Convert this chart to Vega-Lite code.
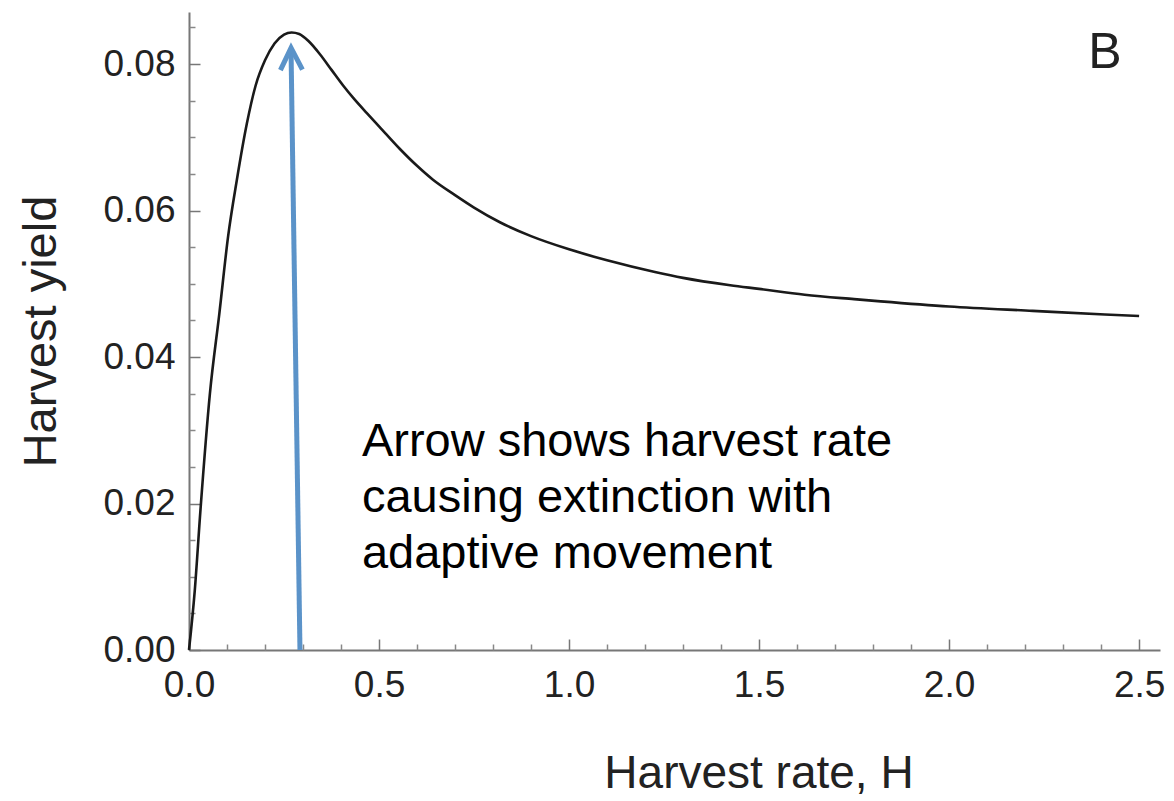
{
  "$schema": "https://vega.github.io/schema/vega-lite/v6.json",
  "width": 971,
  "height": 638,
  "autosize": {"type": "none"},
  "padding": {"left": 189, "top": 12, "right": 14, "bottom": 151},
  "background": "white",
  "config": {"view": {"stroke": null}, "font": "Liberation Sans"},
  "datasets": {
    "curve": [
      {"h": 0, "yield": 0},
      {"h": 0.015, "yield": 0.008},
      {"h": 0.03, "yield": 0.019},
      {"h": 0.055, "yield": 0.035},
      {"h": 0.08, "yield": 0.046},
      {"h": 0.103, "yield": 0.0565},
      {"h": 0.126, "yield": 0.0642},
      {"h": 0.152, "yield": 0.0718},
      {"h": 0.175, "yield": 0.077},
      {"h": 0.2, "yield": 0.0805},
      {"h": 0.225, "yield": 0.0828},
      {"h": 0.25, "yield": 0.084},
      {"h": 0.27, "yield": 0.0843},
      {"h": 0.29, "yield": 0.0841},
      {"h": 0.315, "yield": 0.0831},
      {"h": 0.345, "yield": 0.0813},
      {"h": 0.375, "yield": 0.0792},
      {"h": 0.405, "yield": 0.0771},
      {"h": 0.435, "yield": 0.0752},
      {"h": 0.468, "yield": 0.0733},
      {"h": 0.5, "yield": 0.0715},
      {"h": 0.555, "yield": 0.0684},
      {"h": 0.6, "yield": 0.0661},
      {"h": 0.642, "yield": 0.0642},
      {"h": 0.7, "yield": 0.0621},
      {"h": 0.75, "yield": 0.0604},
      {"h": 0.818, "yield": 0.0584},
      {"h": 0.9, "yield": 0.0565},
      {"h": 1.0, "yield": 0.0547},
      {"h": 1.1, "yield": 0.0532},
      {"h": 1.226, "yield": 0.0516},
      {"h": 1.3, "yield": 0.0508},
      {"h": 1.424, "yield": 0.0498},
      {"h": 1.5, "yield": 0.0493},
      {"h": 1.62, "yield": 0.0485},
      {"h": 1.75, "yield": 0.0479},
      {"h": 1.82, "yield": 0.0476},
      {"h": 2.0, "yield": 0.0469},
      {"h": 2.22, "yield": 0.0463},
      {"h": 2.41, "yield": 0.0458},
      {"h": 2.5, "yield": 0.0456}
    ],
    "arrow": [{"h0": 0.292, "y0": 0, "h1": 0.2685, "y1": 0.0818}],
    "head": [{"h": 0.2685, "y": 0.0822}],
    "note": [{"h": 0.455, "y": 0.0265, "label": "Arrow shows harvest rate\ncausing extinction with\nadaptive movement"}],
    "panel": [{"h": 2.366, "y": 0.0795, "label": "B"}]
  },
  "layer": [
    {
      "data": {"name": "curve"},
      "mark": {"type": "line", "color": "#1a1a1a", "strokeWidth": 2.6, "interpolate": "monotone"},
      "encoding": {
        "x": {
          "field": "h", "type": "quantitative",
          "scale": {"domain": [0, 2.555], "nice": false, "zero": false},
          "axis": {
            "orient": "bottom", "values": [0, 0.5, 1, 1.5, 2, 2.5], "format": ".1f",
            "tickSize": -11, "tickWidth": 1.5, "tickColor": "#777",
            "domainColor": "#777", "domainWidth": 2,
            "labelFontSize": 37, "labelColor": "#222", "labelPadding": 28, "labelFont": "Liberation Sans",
            "labelFlush": false, "labelOverlap": false, "grid": false,
            "title": "Harvest rate, H", "titleFontSize": 46, "titleFontWeight": "normal", "titleColor": "#222",
            "titleFont": "Liberation Sans", "titleX": 569.5, "titleY": 137, "titleAlign": "center", "titleBaseline": "alphabetic"
          }
        },
        "y": {
          "field": "yield", "type": "quantitative",
          "scale": {"domain": [0, 0.0871], "nice": false},
          "axis": {
            "orient": "left", "values": [0, 0.02, 0.04, 0.06, 0.08], "format": ".2f",
            "tickSize": -11, "tickWidth": 1.5, "tickColor": "#777",
            "domainColor": "#777", "domainWidth": 2,
            "labelFontSize": 37, "labelColor": "#222", "labelPadding": 25, "labelFont": "Liberation Sans",
            "labelFlush": false, "labelOverlap": false, "grid": false,
            "title": "Harvest yield", "titleFontSize": 47, "titleFontWeight": "normal", "titleColor": "#222",
            "titleFont": "Liberation Sans", "titleX": -134, "titleY": 319, "titleAngle": -90, "titleAlign": "center", "titleBaseline": "alphabetic"
          }
        }
      }
    },
    {
      "data": {"name": "arrow"},
      "mark": {"type": "rule", "color": "#5b93c9", "strokeWidth": 5},
      "encoding": {
        "x": {
          "field": "h0", "type": "quantitative",
          "axis": {
            "orient": "bottom",
            "values": [0.1, 0.2, 0.3, 0.4, 0.6, 0.7, 0.8, 0.9, 1.1, 1.2, 1.3, 1.4, 1.6, 1.7, 1.8, 1.9, 2.1, 2.2, 2.3, 2.4],
            "tickSize": -6, "tickWidth": 1.5, "tickColor": "#888", "labels": false, "domain": false, "grid": false, "title": null
          }
        },
        "y": {
          "field": "y0", "type": "quantitative",
          "axis": {
            "orient": "left",
            "values": [0.005, 0.01, 0.015, 0.025, 0.03, 0.035, 0.045, 0.05, 0.055, 0.065, 0.07, 0.075, 0.085],
            "tickSize": -6, "tickWidth": 1.5, "tickColor": "#888", "labels": false, "domain": false, "grid": false, "title": null
          }
        },
        "x2": {"field": "h1"},
        "y2": {"field": "y1"}
      }
    },
    {
      "data": {"name": "head"},
      "mark": {"type": "point", "shape": "M -1 2 L 0 0 L 1 2", "filled": false, "stroke": "#5b93c9", "strokeWidth": 5, "size": 484, "angle": -1, "opacity": 1, "strokeJoin": "miter"},
      "encoding": {
        "x": {"field": "h", "type": "quantitative", "axis": null},
        "y": {"field": "y", "type": "quantitative", "axis": null}
      }
    },
    {
      "data": {"name": "note"},
      "mark": {"type": "text", "align": "left", "baseline": "alphabetic", "fontSize": 47, "font": "Liberation Sans", "color": "#000", "lineBreak": "\n", "lineHeight": 56},
      "encoding": {
        "x": {"field": "h", "type": "quantitative", "axis": null},
        "y": {"field": "y", "type": "quantitative", "axis": null},
        "text": {"field": "label", "type": "nominal"}
      }
    },
    {
      "data": {"name": "panel"},
      "mark": {"type": "text", "align": "left", "baseline": "alphabetic", "fontSize": 50, "font": "Liberation Sans", "color": "#222"},
      "encoding": {
        "x": {"field": "h", "type": "quantitative", "axis": null},
        "y": {"field": "y", "type": "quantitative", "axis": null},
        "text": {"field": "label", "type": "nominal"}
      }
    }
  ],
  "resolve": {"axis": {"x": "independent", "y": "independent"}}
}
